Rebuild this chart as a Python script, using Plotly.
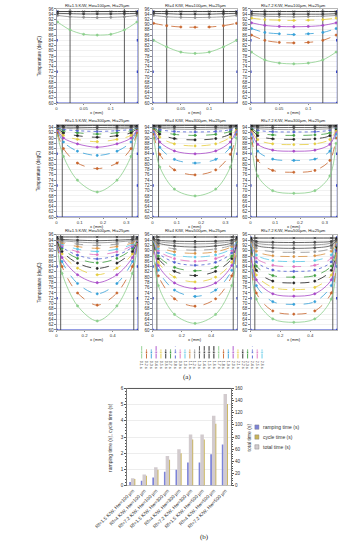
import plotly.graph_objects as go

W, H = 340, 550

# ---------------- data: temperature profiles (panel a) ----------------
rf_labels = ["1.5", "4", "7.2"]
hw_labels = ["100", "300", "500"]

x_ranges = [[0, 0.15], [0, 0.35], [0, 0.58]]
x_tickvals = [[0, 0.05, 0.1], [0, 0.1, 0.2, 0.3], [0, 0.2, 0.4]]
y_ranges = [[60, 96], [60, 95], [60, 96]]
wall_pos = [[0.025, 0.125], [0.025, 0.325], [0.03, 0.55]]
x_points = [
    [0.002, 0.025, 0.05, 0.075, 0.1, 0.125, 0.148],
    [0.005, 0.03, 0.09, 0.175, 0.26, 0.32, 0.345],
    [0.005, 0.04, 0.15, 0.29, 0.43, 0.54, 0.575],
]
frame_levels = [60, 72, 84, 95]

temps_r1c1 = [
    [91, 88, 86.3, 86, 86.3, 88, 91],
    [93.5, 93, 92.8, 92.7, 92.8, 93, 93.5],
    [94.3, 94.2, 94.1, 94.1, 94.1, 94.2, 94.3],
    [95, 95, 95, 95, 95, 95, 95],
]
temps_r1c2 = [
    [84, 81.5, 79.5, 79, 79.5, 81.5, 84],
    [90.5, 89.6, 89.1, 89, 89.1, 89.6, 90.5],
    [93.5, 93, 92.8, 92.7, 92.8, 93, 93.5],
    [94.3, 94.2, 94, 94, 94, 94.2, 94.3],
    [95, 95, 95, 95, 95, 95, 95],
]
temps_r1c3 = [
    [79.5, 76.5, 75.3, 75, 75.3, 76.5, 79.5],
    [86, 84, 83.2, 83, 83.2, 84, 86],
    [88.5, 87, 86.5, 86.2, 86.5, 87, 88.5],
    [90.7, 89.7, 89.3, 89.2, 89.3, 89.7, 90.7],
    [92.5, 91.9, 91.7, 91.6, 91.7, 91.9, 92.5],
    [93.5, 93.2, 93.1, 93, 93.1, 93.2, 93.5],
    [94.2, 94, 94, 94, 94, 94, 94.2],
    [95, 95, 95, 95, 95, 95, 95],
]
temps_r2c1 = [
    [91, 83, 74, 69.5, 74, 83, 91],
    [92, 86, 80.5, 78.4, 80.5, 86, 92],
    [93, 88.5, 85, 83.4, 85, 88.5, 93],
    [93, 90, 87.8, 86.5, 87.8, 90, 93],
    [93.5, 91, 89.5, 88.6, 89.5, 91, 93.5],
    [93.7, 92, 90.9, 90.3, 90.9, 92, 93.7],
    [94, 92.8, 92, 91.5, 92, 92.8, 94],
    [94, 93.3, 92.8, 92.5, 92.8, 93.3, 94],
    [94.2, 93.8, 93.5, 93.3, 93.5, 93.8, 94.2],
    [94.4, 94.2, 94.1, 94, 94.1, 94.2, 94.4],
    [94.8, 94.8, 94.8, 94.8, 94.8, 94.8, 94.8],
]
temps_r2c2 = [
    [90, 79, 70.6, 68, 70.6, 79, 90],
    [91.5, 83.8, 77.9, 76, 77.9, 83.8, 91.5],
    [92.5, 86.5, 81.9, 80.5, 81.9, 86.5, 92.5],
    [93, 88.5, 85.1, 84, 85.1, 88.5, 93],
    [93.5, 90.3, 87.8, 87, 87.8, 90.3, 93.5],
    [93.8, 91.5, 89.8, 89.3, 89.8, 91.5, 93.8],
    [94, 92.5, 91.4, 91, 91.4, 92.5, 94],
    [94.2, 93.2, 92.5, 92.3, 92.5, 93.2, 94.2],
    [94.3, 93.8, 93.4, 93.3, 93.4, 93.8, 94.3],
    [94.5, 94.2, 94.1, 94, 94.1, 94.2, 94.5],
    [94.8, 94.8, 94.8, 94.8, 94.8, 94.8, 94.8],
]
temps_r2c3 = [
    [88, 75.6, 70, 69, 70, 75.6, 88],
    [90, 81.5, 77.7, 77, 77.7, 81.5, 90],
    [91.5, 85, 82, 81.5, 82, 85, 91.5],
    [92.5, 87.6, 85.4, 85, 85.4, 87.6, 92.5],
    [93, 89.4, 87.8, 87.5, 87.8, 89.4, 93],
    [93.5, 90.9, 89.7, 89.5, 89.7, 90.9, 93.5],
    [94, 92, 91.2, 91, 91.2, 92, 94],
    [94.2, 93, 92.4, 92.3, 92.4, 93, 94.2],
    [94.3, 93.6, 93.3, 93.2, 93.3, 93.6, 94.3],
    [94.5, 94.2, 94, 94, 94, 94.2, 94.5],
    [94.8, 94.8, 94.8, 94.8, 94.8, 94.8, 94.8],
]
temps_r3c1 = [
    [92, 81.4, 69.1, 63.4, 69.1, 81.4, 92],
    [92.5, 84, 74, 69.4, 74, 84, 92.5],
    [93, 85.9, 77.6, 73.7, 77.6, 85.9, 93],
    [93, 87.4, 80.9, 77.9, 80.9, 87.4, 93],
    [93.5, 88.8, 83.4, 80.9, 83.4, 88.8, 93.5],
    [93.5, 89.7, 85.3, 83.3, 85.3, 89.7, 93.5],
    [94, 90.8, 87.1, 85.4, 87.1, 90.8, 94],
    [94, 91.4, 88.3, 86.9, 88.3, 91.4, 94],
    [94, 92, 89.6, 88.5, 89.6, 92, 94],
    [94.2, 92.5, 90.6, 89.7, 90.6, 92.5, 94.2],
    [94.3, 93, 91.6, 90.9, 91.6, 93, 94.3],
    [94.4, 93.5, 92.5, 92, 92.5, 93.5, 94.4],
    [94.5, 93.9, 93.3, 93, 93.3, 93.9, 94.5],
    [94.6, 94.3, 94, 93.8, 94, 94.3, 94.6],
    [95.2, 95.2, 95.2, 95.2, 95.2, 95.2, 95.2],
]
temps_r3c2 = [
    [91, 76.8, 65.9, 62.5, 65.9, 76.8, 91],
    [92, 80.5, 71.8, 69, 71.8, 80.5, 92],
    [92.5, 82.6, 75.1, 72.7, 75.1, 82.6, 92.5],
    [93, 84.4, 77.8, 75.7, 77.8, 84.4, 93],
    [93, 85.6, 80, 78.2, 80, 85.6, 93],
    [93.5, 87, 82.2, 80.6, 82.2, 87, 93.5],
    [93.5, 88, 83.7, 82.4, 83.7, 88, 93.5],
    [94, 89.2, 85.6, 84.5, 85.6, 89.2, 94],
    [94, 90, 87, 86, 87, 90, 94],
    [94, 90.8, 88.4, 87.6, 88.4, 90.8, 94],
    [94.2, 91.6, 89.6, 89, 89.6, 91.6, 94.2],
    [94.3, 92.2, 90.7, 90.2, 90.7, 92.2, 94.3],
    [94.4, 92.9, 91.8, 91.4, 91.8, 92.9, 94.4],
    [94.5, 93.5, 92.8, 92.6, 92.8, 93.5, 94.5],
    [94.6, 94, 93.6, 93.5, 93.6, 94, 94.6],
    [95.2, 95.2, 95.2, 95.2, 95.2, 95.2, 95.2],
]
temps_r3c3 = [
    [88, 71.7, 64.2, 62.9, 64.2, 71.7, 88],
    [89, 74, 67.2, 66, 67.2, 74, 89],
    [90, 76.8, 70.7, 69.7, 70.7, 76.8, 90],
    [90.5, 79, 73.7, 72.8, 73.7, 79, 90.5],
    [91, 80.8, 76.1, 75.3, 76.1, 80.8, 91],
    [91.5, 82.6, 78.5, 77.8, 78.5, 82.6, 91.5],
    [92, 84.2, 80.6, 80, 80.6, 84.2, 92],
    [92.5, 85.8, 82.7, 82.2, 82.7, 85.8, 92.5],
    [93, 87.2, 84.5, 84, 84.5, 87.2, 93],
    [93, 88.4, 86.3, 85.9, 86.3, 88.4, 93],
    [93.5, 89.8, 88.1, 87.8, 88.1, 89.8, 93.5],
    [93.8, 91, 89.6, 89.4, 89.6, 91, 93.8],
    [94, 92, 91.1, 90.9, 91.1, 92, 94],
    [94.2, 92.9, 92.2, 92.1, 92.2, 92.9, 94.2],
    [94.3, 93.5, 93.2, 93.1, 93.2, 93.5, 94.3],
    [94.8, 94.8, 94.8, 94.8, 94.8, 94.8, 94.8],
]
temps_grid = [
    [temps_r1c1, temps_r1c2, temps_r1c3],
    [temps_r2c1, temps_r2c2, temps_r2c3],
    [temps_r3c1, temps_r3c2, temps_r3c3],
]

legend_labels = ["0.1 s", "0.2 s", "0.3 s", "0.4 s", "0.5 s", "0.6 s", "0.7 s",
                 "0.8 s", "0.9 s", "1.0 s", "1.1 s", "1.2 s", "1.3 s", "1.4 s",
                 "1.5 s", "1.6 s", "1.7 s", "1.8 s", "1.9 s", "2.0 s", "2.1 s",
                 "2.2 s", "2.3 s", "2.4 s", "2.5 s", "2.6 s"]

# ---------------- data: timing bars (panel b) ----------------
bar_categories = [
    "Rf=1.5 K/W, Hw=100 µm", "Rf=4 K/W, Hw=100 µm", "Rf=7.2 K/W, Hw=100 µm",
    "Rf=1.5 K/W, Hw=300 µm", "Rf=4 K/W, Hw=300 µm", "Rf=7.2 K/W, Hw=300 µm",
    "Rf=1.5 K/W, Hw=500 µm", "Rf=4 K/W, Hw=500 µm", "Rf=7.2 K/W, Hw=500 µm",
]
ramping_time = [0.22, 0.3, 0.5, 0.85, 0.97, 1.42, 1.42, 1.93, 2.54]
cycle_time = [0.4, 0.6, 0.97, 1.6, 2.0, 2.85, 2.85, 3.82, 5.04]
total_time = [12, 18.4, 30, 48.5, 60, 84, 84, 115, 151]
bar_series_names = ["ramping time (s)", "cycle time (s)", "total time (s)"]

# ---------------- styles ----------------
FONT = "Liberation Sans"
curve_colors = ['#8ccf8c', '#c8642c', '#34a0d8', '#a848c8', '#e4cc3c', '#202020',
                '#3c9c3c', '#5060d0', '#e070c0', '#58c8e8', '#d89040', '#909090',
                '#505050', '#303030', '#202020', '#101010']
curve_dashes = ['solid', 'dash', 'dash', 'solid', 'dash', 'dash', 'dash', 'dot',
                'dash', 'dash', 'dash', 'dash', 'solid', 'solid', 'solid', 'solid']
top_colors = ['#8a8a8a', '#404040', '#111111']
bar_colors = ['#7c83d8', '#c9b45a', '#d2cbce']

col_px = [(27, 117), (133, 227), (241, 337)]
row_px = [(7, 102), (124, 217), (235, 331)]
title_px = [3.5, 119.5, 231]


def fx(p):
    return p / W


def fy(p):
    return 1 - p / H


fig = go.Figure()
layout = {}
annotations = []
shapes = []

for r in range(3):
    for c in range(3):
        k = r * 3 + c + 1
        xn = 'x' if k == 1 else f'x{k}'
        yn = 'y' if k == 1 else f'y{k}'
        xa = 'xaxis' if k == 1 else f'xaxis{k}'
        ya = 'yaxis' if k == 1 else f'yaxis{k}'
        xr, yr = x_ranges[r], y_ranges[r]
        curves = temps_grid[r][c]
        n = len(curves)

        # blue outline series
        for xe in xr:
            fig.add_trace(go.Scatter(x=[xe] * len(frame_levels), y=frame_levels, xaxis=xn, yaxis=yn,
                                     mode='lines+markers', line=dict(color='#3040c8', width=0.8),
                                     marker=dict(symbol='square', size=2.5, color='#3040c8'),
                                     showlegend=False, hoverinfo='skip'))
        fig.add_trace(go.Scatter(x=xr, y=[yr[0], yr[0]], xaxis=xn, yaxis=yn,
                                 mode='lines', line=dict(color='#3040c8', width=1),
                                 showlegend=False, hoverinfo='skip'))
        # chamber walls
        for w in wall_pos[r]:
            fig.add_trace(go.Scatter(x=[w, w], y=yr, xaxis=xn, yaxis=yn, mode='lines',
                                     line=dict(color='#333333', width=0.8),
                                     showlegend=False, hoverinfo='skip'))
        # profiles
        for i, prof in enumerate(curves):
            if i >= n - 3:
                col = top_colors[i - (n - 3)]
                dash = 'solid'
                sym = 'x-thin' if i == n - 1 else 'circle'
            else:
                col = curve_colors[i]
                dash = curve_dashes[i]
                sym = 'circle'
            fig.add_trace(go.Scatter(x=x_points[r], y=prof, xaxis=xn, yaxis=yn,
                                     mode='lines+markers',
                                     line=dict(color=col, width=0.8, dash=dash, shape='spline', smoothing=0.9),
                                     marker=dict(size=2.2, color=col, symbol=sym,
                                                 line=dict(color=col, width=0.6)),
                                     showlegend=False, hoverinfo='skip'))

        layout[xa] = dict(domain=[fx(col_px[c][0]), fx(col_px[c][1])], range=xr, anchor=yn,
                          tickvals=x_tickvals[r], tickfont=dict(size=4.3, color='#333'),
                          showline=True, mirror=True, linecolor='#888', linewidth=0.6,
                          showgrid=False, zeroline=False, ticks='outside', ticklen=1,
                          tickcolor='#888')
        layout[ya] = dict(domain=[fy(row_px[r][1]), fy(row_px[r][0])], range=yr, anchor=xn,
                          dtick=2, tick0=60, tickfont=dict(size=4.5, color='#333'),
                          showline=True, mirror=True, linecolor='#888', linewidth=0.6,
                          showgrid=True, gridcolor='#e4e4e4', gridwidth=0.5, zeroline=False,
                          ticks='outside', ticklen=1.5, tickcolor='#888')
        cx = (col_px[c][0] + col_px[c][1]) / 2
        annotations.append(dict(text=f"Rf={rf_labels[c]} K/W, Hw={hw_labels[r]}µm, Hi=25µm",
                                x=fx(cx), y=fy(title_px[r]), xref='paper', yref='paper',
                                showarrow=False, font=dict(size=4.2, color='#222'),
                                xanchor='center', yanchor='middle'))
        annotations.append(dict(text="x (mm)", x=fx(cx), y=fy(row_px[r][1] + 9.5),
                                xref='paper', yref='paper', showarrow=False,
                                font=dict(size=4.2, color='#222'), xanchor='center', yanchor='middle'))
        if c == 0:
            annotations.append(dict(text="Temperature (degC)", x=fx(8),
                                    y=fy((row_px[r][0] + row_px[r][1]) / 2),
                                    xref='paper', yref='paper', showarrow=False, textangle=-90,
                                    font=dict(size=4.5, color='#222'), xanchor='center', yanchor='middle'))

# ---------------- series legend row ----------------
for i, lab in enumerate(legend_labels):
    col = curve_colors[i % len(curve_colors)]
    fig.add_trace(go.Scatter(x=[lab, lab, lab], y=[0, 0.5, 1], xaxis='x10', yaxis='y10',
                             mode='lines+markers',
                             line=dict(color=col, width=0.9, dash=curve_dashes[i % len(curve_dashes)]),
                             marker=dict(size=[0, 2.5, 0], color=col),
                             showlegend=False, hoverinfo='skip'))
layout['xaxis10'] = dict(domain=[fx(110), fx(265)], anchor='y10', type='category',
                         categoryorder='array', categoryarray=legend_labels,
                         tickangle=90, tickfont=dict(size=3.6, color='#333'),
                         showline=False, showgrid=False, zeroline=False, ticks='')
layout['yaxis10'] = dict(domain=[fy(361), fy(346)], anchor='x10', range=[-0.1, 1.1],
                         visible=False)

# ---------------- bar chart ----------------
fig.add_trace(go.Bar(x=bar_categories, y=total_time, name=bar_series_names[2], xaxis='x11', yaxis='y12',
                     marker=dict(color=bar_colors[2], line=dict(width=0)), offset=-0.17, width=0.3,
                     showlegend=False))
fig.add_trace(go.Bar(x=bar_categories, y=ramping_time, name=bar_series_names[0], xaxis='x11', yaxis='y11',
                     marker=dict(color=bar_colors[0], line=dict(width=0)), offset=-0.32, width=0.15,
                     showlegend=False))
fig.add_trace(go.Bar(x=bar_categories, y=cycle_time, name=bar_series_names[1], xaxis='x11', yaxis='y11',
                     marker=dict(color=bar_colors[1], line=dict(width=0)), offset=0.06, width=0.15,
                     showlegend=False))

layout['xaxis11'] = dict(domain=[fx(105), fx(220)], anchor='y11', type='category',
                         tickangle=-45, tickfont=dict(size=4.8, color='#333'),
                         showline=True, linecolor='#999', linewidth=0.6, ticks='',
                         showgrid=False, zeroline=False)
layout['yaxis11'] = dict(domain=[fy(488), fy(390)], anchor='x11', range=[0, 6], dtick=1,
                         tickfont=dict(size=4.6, color='#333'), showline=True, linecolor='#555',
                         linewidth=0.8, ticks='outside', ticklen=2, tickcolor='#555',
                         minor=dict(ticks='outside', ticklen=1.2, dtick=0.2, tickcolor='#555', showgrid=False),
                         showgrid=True, gridcolor='#dcdcdc', gridwidth=0.5, zeroline=False)
layout['yaxis12'] = dict(overlaying='y11', anchor='x11', side='right', range=[0, 160], dtick=20,
                         tickfont=dict(size=4.6, color='#333'), showline=True, linecolor='#555',
                         linewidth=0.8, ticks='outside', ticklen=2, tickcolor='#555',
                         minor=dict(ticks='outside', ticklen=1.2, dtick=4, tickcolor='#555', showgrid=False),
                         showgrid=False, zeroline=False)

# manual compact legend for the bar series
for j, (nm, colr) in enumerate(zip(bar_series_names, bar_colors)):
    yc = 429 + 10 * j
    shapes.append(dict(type='rect', xref='paper', yref='paper', x0=fx(246), x1=fx(250.5),
                       y0=fy(yc + 2.2), y1=fy(yc - 2.2), fillcolor=colr,
                       line=dict(color='#777', width=0.4)))
    annotations.append(dict(text=nm, x=fx(253), y=fy(yc), xref='paper', yref='paper',
                            showarrow=False, font=dict(size=5, color='#333'),
                            xanchor='left', yanchor='middle'))

annotations.append(dict(text="ramping time (s), cycle time (s)", x=fx(86), y=fy(439),
                        xref='paper', yref='paper', showarrow=False, textangle=-90,
                        font=dict(size=5, color='#333'), xanchor='center', yanchor='middle'))
annotations.append(dict(text="total time (s)", x=fx(240), y=fy(439),
                        xref='paper', yref='paper', showarrow=False, textangle=-90,
                        font=dict(size=5, color='#333'), xanchor='center', yanchor='middle'))
annotations.append(dict(text="(a)", x=fx(171), y=fy(378), xref='paper', yref='paper',
                        showarrow=False, font=dict(size=7, color='#222', family='Liberation Serif'),
                        xanchor='center', yanchor='middle'))
annotations.append(dict(text="(b)", x=fx(190), y=fy(540), xref='paper', yref='paper',
                        showarrow=False, font=dict(size=7, color='#222', family='Liberation Serif'),
                        xanchor='center', yanchor='middle'))
# frame line on top of bar plot
shapes.append(dict(type='line', xref='paper', yref='paper', x0=fx(105), x1=fx(220),
                   y0=fy(390), y1=fy(390), line=dict(color='#555', width=1)))

fig.update_layout(
    width=W, height=H, autosize=False,
    margin=dict(l=0, r=0, t=0, b=0),
    paper_bgcolor='white', plot_bgcolor='white',
    font=dict(family=FONT, size=5, color='#333'),
    annotations=annotations,
    shapes=shapes,
    showlegend=False,
    **layout,
)

fig.write_html("out.html",
               config={'displayModeBar': False, 'staticPlot': True},
               post_script="document.body.style.margin='0';document.body.style.padding='0';")
